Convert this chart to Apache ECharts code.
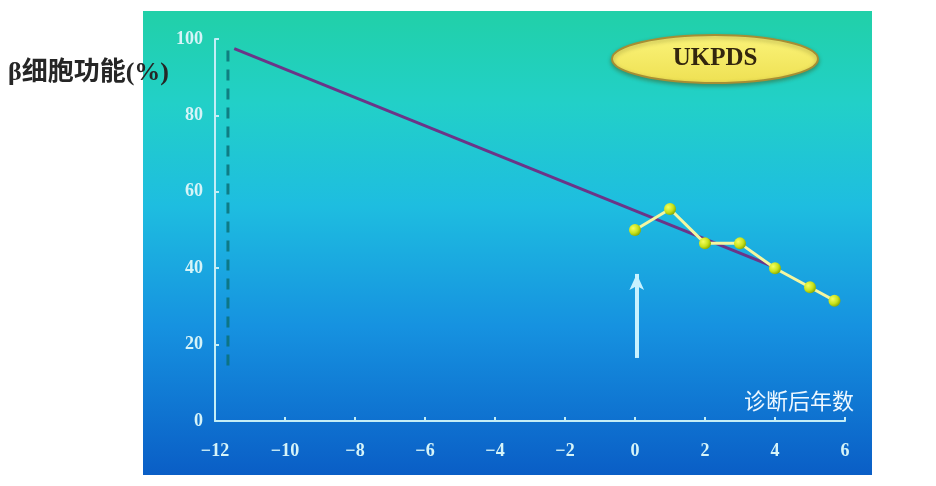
<!DOCTYPE html>
<html>
<head>
<meta charset="utf-8">
<script src="https://cdn.jsdelivr.net/npm/echarts@6/dist/echarts.min.js"></script>
<style>html,body{margin:0;padding:0;background:#fff;}#c{width:936px;height:486px;}</style>
</head>
<body>
<div id="c"></div>
<script>
// Data
var yearsAfterDiagnosis = [0, 1, 2, 3, 4, 5, 5.7];
var betaCellFunction = [50, 55.5, 46.5, 46.5, 40, 35, 31.5];
var trendX = [-11.45, 3.9];
var trendY = [97.5, 40.6];
var dashedX = [-11.63, -11.63];
var dashedY = [97, 12.5];
var arrowX = [0.05, 0.05];
var arrowY = [16.5, 38.5];
var xTicks = [-12, -10, -8, -6, -4, -2, 0, 2, 4, 6];
var yTicks = [0, 20, 40, 60, 80, 100];
var yAxisTitle = 'β细胞功能(%)';
var xAxisTitle = '诊断后年数';
var badgeText = 'UKPDS';

function pairs(xs, ys) { return xs.map(function (x, i) { return [x, ys[i]]; }); }

var chart = echarts.init(document.getElementById('c'), null, { renderer: 'canvas' });
var labelStyle = { color: '#d6f4f8', fontFamily: 'Liberation Serif, serif', fontWeight: 'bold', fontSize: 18 };
chart.setOption({
  backgroundColor: '#ffffff',
  animation: false,
  grid: { left: 215, right: 91, top: 39, bottom: 65 },
  xAxis: {
    type: 'value', min: xTicks[0], max: xTicks[xTicks.length - 1], interval: 2,
    axisLine: { onZero: false, lineStyle: { color: '#c4eef6', width: 2 } },
    axisTick: { show: true, inside: true, length: 4, lineStyle: { color: '#c4eef6', width: 2 } },
    axisLabel: Object.assign({ margin: 21, formatter: function (v) { return String(v).replace('-', '−'); } }, labelStyle),
    splitLine: { show: false }
  },
  yAxis: {
    type: 'value', min: yTicks[0], max: yTicks[yTicks.length - 1], interval: 20,
    axisLine: { show: true, onZero: false, lineStyle: { color: '#c4eef6', width: 2 } },
    axisTick: { show: true, inside: true, length: 4, lineStyle: { color: '#c4eef6', width: 2 } },
    axisLabel: Object.assign({ margin: 12 }, labelStyle),
    splitLine: { show: false }
  },
  graphic: [
    {
      type: 'rect', z: -100, silent: true,
      shape: { x: 143, y: 11, width: 729, height: 464 },
      style: {
        fill: new echarts.graphic.LinearGradient(0, 0, 0, 1, [
          { offset: 0, color: '#21d0a8' },
          { offset: 0.2, color: '#22d0c8' },
          { offset: 0.42, color: '#1ebde0' },
          { offset: 0.68, color: '#1692e0' },
          { offset: 1, color: '#0a5ec6' }
        ])
      }
    },
    {
      type: 'ellipse', z: 100,
      shape: { cx: 715, cy: 59, rx: 103, ry: 24 },
      style: {
        fill: new echarts.graphic.LinearGradient(0, 0, 0, 1, [
          { offset: 0, color: '#fbf47a' },
          { offset: 1, color: '#eee052' }
        ]),
        stroke: '#a68e34', lineWidth: 2,
        shadowBlur: 4, shadowColor: 'rgba(60,60,0,0.4)', shadowOffsetY: 2
      }
    },
    {
      type: 'text', z: 101, x: 715, y: 59,
      style: {
        text: badgeText, fill: '#33260e', font: 'bold 25px "Liberation Serif", serif',
        align: 'center', verticalAlign: 'middle'
      }
    },
    {
      type: 'text', z: 101, x: 8, y: 73,
      style: {
        text: yAxisTitle, fill: '#262626', font: 'bold 26px "Liberation Serif", "Noto Sans CJK SC", serif',
        align: 'left', verticalAlign: 'middle'
      }
    },
    {
      type: 'text', z: 101, x: 854, y: 401,
      style: {
        text: xAxisTitle, fill: '#eef8ff', font: '22px "Noto Sans CJK SC", sans-serif',
        align: 'right', verticalAlign: 'middle'
      }
    }
  ],
  series: [
    {
      type: 'line', name: 'dashed', data: pairs(dashedX, dashedY), symbol: 'none',
      lineStyle: { color: 'rgba(12,112,118,0.85)', width: 3, type: [11, 8] }, z: 2
    },
    {
      type: 'line', name: 'trend', data: pairs(trendX, trendY), symbol: 'none',
      lineStyle: { color: '#6b3588', width: 3 }, z: 3
    },
    {
      type: 'line', name: 'UKPDS', data: pairs(yearsAfterDiagnosis, betaCellFunction),
      symbol: 'circle', symbolSize: 12, showAllSymbol: true,
      lineStyle: { color: '#f4f6a0', width: 3 },
      itemStyle: {
        color: new echarts.graphic.RadialGradient(0.35, 0.35, 0.7, [
          { offset: 0, color: '#f4ff60' },
          { offset: 0.6, color: '#c8e21a' },
          { offset: 1, color: '#86a800' }
        ]),
        borderWidth: 0
      },
      z: 4
    },
    {
      type: 'line', name: 'arrow', data: pairs(arrowX, arrowY), symbol: 'none',
      lineStyle: { opacity: 0 },
      markLine: {
        silent: true, symbol: ['none', 'arrow'], symbolSize: [11, 16],
        label: { show: false },
        lineStyle: { color: '#c8f2ff', width: 4, type: 'solid' },
        data: [[{ coord: [arrowX[0], arrowY[0]] }, { coord: [arrowX[1], arrowY[1]] }]]
      },
      z: 3
    }
  ]
});
</script>
</body>
</html>
